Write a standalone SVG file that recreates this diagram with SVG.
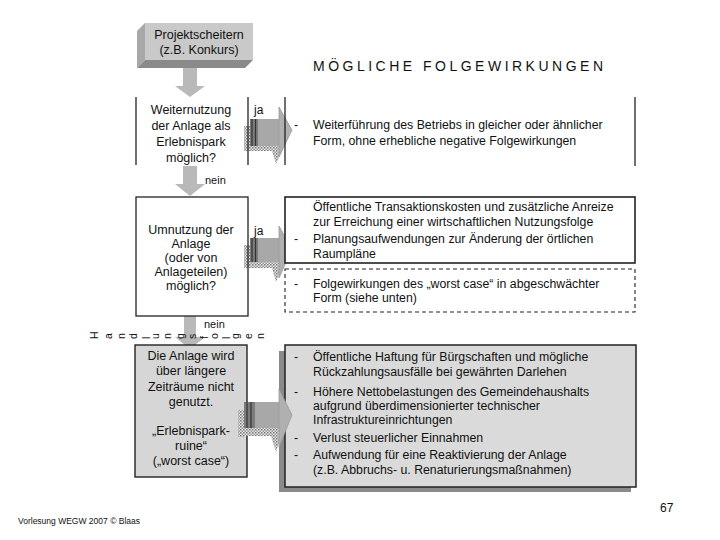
<svg xmlns="http://www.w3.org/2000/svg" width="720" height="540" viewBox="0 0 720 540">
<defs>
<pattern id="dots" width="3" height="3" patternUnits="userSpaceOnUse">
<rect width="3" height="3" fill="#e6e6e6"/>
<rect width="1.5" height="1.5" fill="#777"/>
<rect x="1.5" y="1.5" width="1.5" height="1.5" fill="#999"/>
</pattern>
<style>
text{font-family:"Liberation Sans",Arial,sans-serif;fill:#111}
.l{font-size:12.5px;text-anchor:middle}
.r{font-size:12.3px}
.s{font-size:11px}
.ln{stroke:#222;stroke-width:1.3;fill:none}
.down{fill:#b9b9b9}
.abody{fill:#a8a8a8}
.ahead{fill:#b0b0b0;stroke:#9a9a9a;stroke-width:0.8}
.strip{fill:#7c7c7c}
.dk{stroke:#333;stroke-width:1.2}
</style>
</defs>
<rect width="720" height="540" fill="#fff"/>

<g id="title">
<text x="313" y="71" font-size="14" textLength="290" lengthAdjust="spacing">MÖGLICHE FOLGEWIRKUNGEN</text>
</g>

<g id="connectors">
<polygon class="down" points="183,68 197,68 197,86 205,86 190,97 175,86 183,86"/>
<polygon class="down" points="183,166 197,166 197,184 205,184 190,196 175,184 183,184"/>
<polygon class="down" points="184,316 196,316 196,337 205,337 190,349 175,337 184,337"/>
<text class="s" x="205" y="184">nein</text>
<text class="s" x="204" y="328">nein</text>
<!-- ja arrow 1 -->
<rect x="244" y="126" width="6" height="25" fill="url(#dots)"/>
<rect x="246" y="145" width="34" height="6" fill="url(#dots)"/>
<polygon points="278,146 284,146 276,164 272,151" fill="url(#dots)"/>
<rect class="abody" x="250" y="119" width="31" height="27"/>
<rect class="strip" x="250" y="119" width="8" height="27"/>
<line class="dk" x1="252" y1="119" x2="252" y2="146"/>
<line class="dk" x1="255.5" y1="119" x2="255.5" y2="146"/>
<polygon class="ahead" points="279,107 292,130 279,157"/>
<text x="254" y="114" font-size="12">ja</text>
<!-- ja arrow 2 -->
<rect x="244" y="245" width="6" height="23" fill="url(#dots)"/>
<rect x="246" y="262" width="34" height="6" fill="url(#dots)"/>
<polygon points="278,262 284,262 276,282 272,268" fill="url(#dots)"/>
<rect class="abody" x="250" y="238" width="31" height="24"/>
<rect class="strip" x="250" y="238" width="8" height="24"/>
<line class="dk" x1="252" y1="238" x2="252" y2="262"/>
<line class="dk" x1="255.5" y1="238" x2="255.5" y2="262"/>
<polygon class="ahead" points="279,226 292,249 279,278"/>
<text x="254" y="235" font-size="12">ja</text>
</g>

<g id="node-projektscheitern">
<polygon points="137,31 145,23 145,60 137,68" fill="#a8a8a8"/>
<polygon points="137,68 145,60 253,60 245,68" fill="#8a8a8a"/>
<rect x="145" y="23" width="108" height="37" fill="#c9c9c9"/>
<text class="l" x="199" y="39">Projektscheitern</text>
<text class="l" x="199" y="54">(z.B. Konkurs)</text>
</g>

<g id="node-weiternutzung">
<line class="ln" x1="136" y1="97" x2="136" y2="165"/>
<line class="ln" x1="248" y1="97" x2="248" y2="165"/>
<text class="l" x="191" y="114">Weiternutzung</text>
<text class="l" x="191" y="130">der Anlage als</text>
<text class="l" x="191" y="146">Erlebnispark</text>
<text class="l" x="191" y="162">möglich?</text>
</g>

<g id="node-folge1">
<line class="ln" x1="285" y1="97" x2="285" y2="165"/>
<line class="ln" x1="635" y1="97" x2="635" y2="166"/>
<text class="r" x="294" y="129">-</text>
<text class="r" x="313" y="129">Weiterführung des Betriebs in gleicher oder ähnlicher</text>
<text class="r" x="313" y="145">Form, ohne erhebliche negative Folgewirkungen</text>
</g>

<g id="node-umnutzung">
<rect class="ln" x="136" y="197" width="112" height="119" fill="#fff"/>
<text class="l" x="191" y="234">Umnutzung der</text>
<text class="l" x="191" y="248">Anlage</text>
<text class="l" x="191" y="262">(oder von</text>
<text class="l" x="191" y="276">Anlageteilen)</text>
<text class="l" x="191" y="290">möglich?</text>
</g>

<g id="node-folge2">
<rect x="285" y="197" width="350" height="66" fill="#fff" stroke="#222" stroke-width="1.6"/>
<text class="r" x="313" y="211">Öffentliche Transaktionskosten und zusätzliche Anreize</text>
<text class="r" x="313" y="226">zur Erreichung einer wirtschaftlichen Nutzungsfolge</text>
<text class="r" x="294" y="243" fill="#555">-</text>
<text class="r" x="313" y="243">Planungsaufwendungen zur Änderung der örtlichen</text>
<text class="r" x="313" y="258">Raumpläne</text>
</g>

<g id="node-folge2b">
<rect x="285" y="269" width="350" height="43" fill="none" stroke="#222" stroke-width="1.1" stroke-dasharray="4,3"/>
<text class="r" x="294" y="288">-</text>
<text class="r" x="313" y="288">Folgewirkungen des „worst case“ in abgeschwächter</text>
<text class="r" x="313" y="302">Form (siehe unten)</text>
</g>

<g id="label-handlungsfolgen">
<text x="98" y="339" font-size="10.5" rotate="-90" textLength="172" lengthAdjust="spacing">Handlungsfolgen</text>
</g>

<g id="node-worstcase">
<rect x="135" y="345" width="112" height="132" fill="#d6d6d6" stroke="#222" stroke-width="1.4"/>
<text class="l" x="191" y="360">Die Anlage wird</text>
<text class="l" x="191" y="375">über längere</text>
<text class="l" x="191" y="391">Zeiträume nicht</text>
<text class="l" x="191" y="406">genutzt.</text>
<text class="l" x="191" y="435">„Erlebnispark-</text>
<text class="l" x="191" y="450">ruine“</text>
<text class="l" x="191" y="465">(„worst case“)</text>
</g>

<g id="node-folge3">
<rect x="279" y="351" width="352" height="141" fill="#8a8a8a"/>
<rect x="285" y="345" width="351" height="142" fill="#dadada" stroke="#222" stroke-width="1.5"/>
<text class="r" x="294" y="361">-</text>
<text class="r" x="313" y="361">Öffentliche Haftung für Bürgschaften und mögliche</text>
<text class="r" x="313" y="376">Rückzahlungsausfälle bei gewährten Darlehen</text>
<text class="r" x="294" y="396">-</text>
<text class="r" x="313" y="396">Höhere Nettobelastungen des Gemeindehaushalts</text>
<text class="r" x="313" y="410">aufgrund überdimensionierter technischer</text>
<text class="r" x="313" y="424">Infrastruktureinrichtungen</text>
<text class="r" x="294" y="442">-</text>
<text class="r" x="313" y="442">Verlust steuerlicher Einnahmen</text>
<text class="r" x="294" y="459">-</text>
<text class="r" x="313" y="459">Aufwendung für eine Reaktivierung der Anlage</text>
<text class="r" x="313" y="474">(z.B. Abbruchs- u. Renaturierungsmaßnahmen)</text>
</g>

<g id="arrow3">
<rect x="238" y="410" width="6" height="27" fill="url(#dots)"/>
<rect x="240" y="428" width="40" height="8" fill="url(#dots)"/>
<polygon points="278,428 284,428 276,452 271,436" fill="url(#dots)"/>
<rect class="abody" x="244" y="402" width="37" height="26"/>
<rect class="strip" x="244" y="402" width="11" height="26"/>
<line class="dk" x1="247" y1="402" x2="247" y2="428"/>
<line class="dk" x1="251" y1="402" x2="251" y2="428"/>
<polygon class="ahead" points="279,389 292,415 279,447"/>
</g>

<g id="footer">
<text x="660" y="512" font-size="12">67</text>
<text x="18" y="524" font-size="8.5">Vorlesung WEGW 2007 © Blaas</text>
</g>
</svg>
